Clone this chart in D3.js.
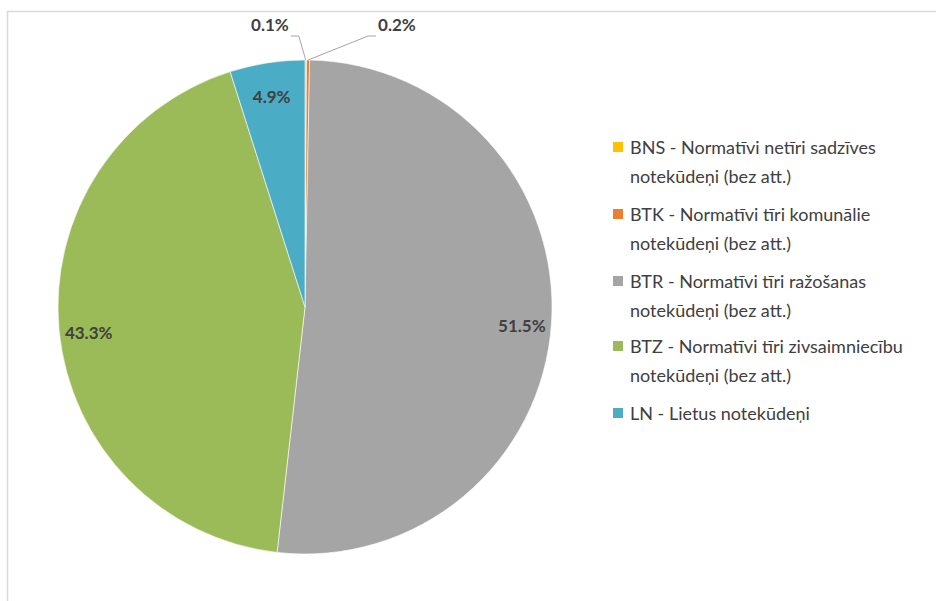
<!DOCTYPE html>
<html>
<head>
<meta charset="utf-8">
<script src="https://cdn.jsdelivr.net/npm/d3@7"></script>
<style>
    html, body { margin: 0; padding: 0; background: #fff; }
    svg { display: block; }
    text { font-family: Lato, "Open Sans", sans-serif; }
</style>
</head>
<body>
<div id="chart"></div>
<script>
// Data
const codes = ["BNS", "BTK", "BTR", "BTZ", "LN"];
const names = [
    ["BNS - Normatīvi netīri sadzīves", "notekūdeņi (bez att.)"],
    ["BTK - Normatīvi tīri komunālie", "notekūdeņi (bez att.)"],
    ["BTR - Normatīvi tīri ražošanas", "notekūdeņi (bez att.)"],
    ["BTZ - Normatīvi tīri zivsaimniecību", "notekūdeņi (bez att.)"],
    ["LN - Lietus notekūdeņi"]
];
const shares = [0.1, 0.2, 51.5, 43.3, 4.9];
const colors = ["#FFC000", "#ED7D31", "#A5A5A5", "#9BBB59", "#4BACC6"];

const width = 936, height = 601;
const cx = 305, cy = 307, radius = 247;

const svg = d3.select("#chart").append("svg")
    .attr("width", width)
    .attr("height", height);

// chart area border
svg.append("path")
    .attr("d", `M7.5,${height} V11.5 H${width}`)
    .attr("fill", "none")
    .attr("stroke", "#d9d9d9")
    .attr("stroke-width", 1.5);

const data = codes.map((c, i) => ({ code: c, value: shares[i], color: colors[i], lines: names[i] }));

const pie = d3.pie().value(d => d.value).sort(null);
const arc = d3.arc().innerRadius(0).outerRadius(radius);
const labelArc = d3.arc().innerRadius(radius * 0.88).outerRadius(radius * 0.88);
const edgeArc = d3.arc().innerRadius(radius).outerRadius(radius);

const g = svg.append("g").attr("transform", `translate(${cx},${cy})`);
const arcs = pie(data);

g.selectAll("path.slice")
    .data(arcs)
    .enter()
    .append("path")
    .attr("class", "slice")
    .attr("d", arc)
    .attr("fill", d => d.data.color)
    .attr("stroke", "#fff")
    .attr("stroke-width", 0.6);

const fmt = v => v.toFixed(1) + "%";

// inside labels for the big slices
g.selectAll("text.inlabel")
    .data(arcs.filter(d => d.data.value > 1))
    .enter()
    .append("text")
    .attr("class", "inlabel")
    .attr("transform", d => {
        const [x, y] = labelArc.centroid(d);
        return `translate(${x},${y + 4})`;
    })
    .attr("text-anchor", "middle")
    .attr("dominant-baseline", "central")
    .attr("font-size", 17)
    .attr("font-weight", 700)
    .attr("fill", "#404040")
    .text(d => fmt(d.data.value));

// outside labels with leader lines for the tiny slices
const tiny = arcs.filter(d => d.data.value <= 1);
tiny.forEach((d, i) => {
    const [ex, ey] = edgeArc.centroid(d);
    const side = i === 0 ? -1 : 1;
    const knee = [ex + side * (i === 0 ? 7 : 60), -cy + 36];
    const end = [knee[0] + side * 8, knee[1]];
    g.append("polyline")
        .attr("points", [[ex, ey], knee, end].map(p => p.join(",")).join(" "))
        .attr("fill", "none")
        .attr("stroke", "#a6a6a6")
        .attr("stroke-width", 1);
    g.append("text")
        .attr("x", end[0] + side * 2)
        .attr("y", -cy + 24)
        .attr("text-anchor", side < 0 ? "end" : "start")
        .attr("dominant-baseline", "central")
        .attr("font-size", 17)
        .attr("font-weight", 700)
        .attr("fill", "#404040")
        .text(fmt(d.data.value));
});

// legend
const legend = svg.append("g").attr("transform", "translate(613,147)");
const entryY = [0, 67, 134, 199, 266];
const item = legend.selectAll("g.item")
    .data(data)
    .enter()
    .append("g")
    .attr("class", "item")
    .attr("transform", (d, i) => `translate(0,${entryY[i]})`);

item.append("rect")
    .attr("x", 0)
    .attr("y", -5)
    .attr("width", 10)
    .attr("height", 10)
    .attr("fill", d => d.color);

item.each(function (d) {
    const t = d3.select(this).append("text")
        .attr("x", 17)
        .attr("y", 0)
        .attr("font-size", 18)
        .attr("fill", "#404040")
        .attr("dominant-baseline", "central");
    d.lines.forEach((ln, j) => {
        t.append("tspan")
            .attr("x", 17)
            .attr("dy", j === 0 ? 0 : 29)
            .text(ln);
    });
});
</script>
</body>
</html>
